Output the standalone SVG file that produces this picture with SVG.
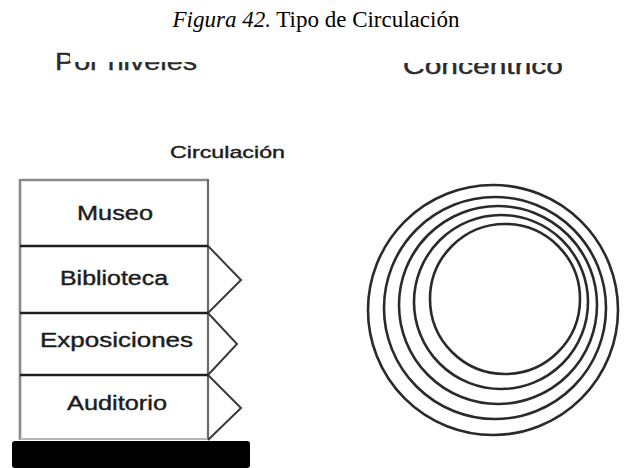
<svg xmlns="http://www.w3.org/2000/svg" width="633" height="468" viewBox="0 0 633 468">
  <style>
    .title { font-family: "Liberation Serif", "Times New Roman", serif; font-size: 23px; fill: #000; }
    .lbl { font-family: "Liberation Sans", Arial, sans-serif; fill: #1c1c1c; stroke: #1c1c1c; stroke-width: 0.4; }
    .row { font-size: 20px; }
    .head { font-size: 24px; fill: #2a2a2a; stroke: #2a2a2a; }
    .sep { stroke: #1e1e1e; stroke-width: 2.6; fill: none; }
    .edge { stroke: #8a8a8a; stroke-width: 2.6; fill: none; }
    .chev { stroke: #3a3a3a; stroke-width: 2; fill: none; stroke-linejoin: miter; }
    .ring { stroke: #2a2a2a; stroke-width: 2.6; fill: none; }
  </style>
  <defs>
    <clipPath id="clipPor">
      <rect x="40" y="45" width="30" height="35"/>
      <rect x="70" y="62" width="150" height="18"/>
    </clipPath>
    <clipPath id="clipCon">
      <rect x="390" y="63" width="200" height="18"/>
    </clipPath>
  </defs>
  <rect width="633" height="468" fill="#fff"/>

  <g id="title">
    <text class="title" x="316" y="27" text-anchor="middle"><tspan font-style="italic">Figura 42.</tspan> Tipo de Circulación</text>
  </g>

  <g id="label-por-niveles" clip-path="url(#clipPor)">
    <text class="lbl head" x="55" y="70" textLength="142" lengthAdjust="spacingAndGlyphs">Por niveles</text>
  </g>

  <g id="label-concentrico" clip-path="url(#clipCon)">
    <text class="lbl head" x="403" y="74" textLength="160" lengthAdjust="spacingAndGlyphs">Concéntrico</text>
  </g>

  <g id="label-circulacion">
    <text class="lbl" font-size="17" x="170" y="158" textLength="115" lengthAdjust="spacingAndGlyphs">Circulación</text>
  </g>

  <g id="stack-frame">
    <line class="edge" x1="20" y1="180" x2="208" y2="180"/>
    <line class="edge" x1="20" y1="179" x2="20" y2="440"/>
    <line stroke="#6a6a6a" stroke-width="2.2" x1="208" y1="179" x2="208" y2="440"/>
  </g>

  <g id="museo">
    <text class="lbl row" x="77" y="220" textLength="76" lengthAdjust="spacingAndGlyphs">Museo</text>
  </g>
  <g id="biblioteca">
    <line class="sep" x1="20" y1="246" x2="208" y2="246"/>
    <text class="lbl row" x="60" y="285" textLength="108" lengthAdjust="spacingAndGlyphs">Biblioteca</text>
  </g>
  <g id="exposiciones">
    <line class="sep" x1="20" y1="313" x2="208" y2="313"/>
    <text class="lbl row" x="40" y="347" textLength="153" lengthAdjust="spacingAndGlyphs">Exposiciones</text>
  </g>
  <g id="auditorio">
    <line class="sep" x1="20" y1="375" x2="208" y2="375"/>
    <text class="lbl row" x="67" y="410" textLength="100" lengthAdjust="spacingAndGlyphs">Auditorio</text>
  </g>
  <g id="base">
    <line stroke="#b5b5b5" stroke-width="2" x1="20" y1="439" x2="208" y2="439"/>
    <rect x="12" y="441" width="238" height="27" rx="3" fill="#000"/>
  </g>

  <g id="connectors">
    <polyline class="chev" points="208,246 241,280 208,313"/>
    <polyline class="chev" points="208,313 237,344 208,375"/>
    <polyline class="chev" points="208,375 241,408 208,440"/>
  </g>

  <g id="concentric">
    <circle class="ring" cx="493" cy="310" r="125"/>
    <circle class="ring" cx="495" cy="308" r="111"/>
    <circle class="ring" cx="498" cy="305" r="99"/>
    <circle class="ring" cx="501" cy="302" r="87"/>
    <circle class="ring" cx="505" cy="299" r="75"/>
  </g>
</svg>
